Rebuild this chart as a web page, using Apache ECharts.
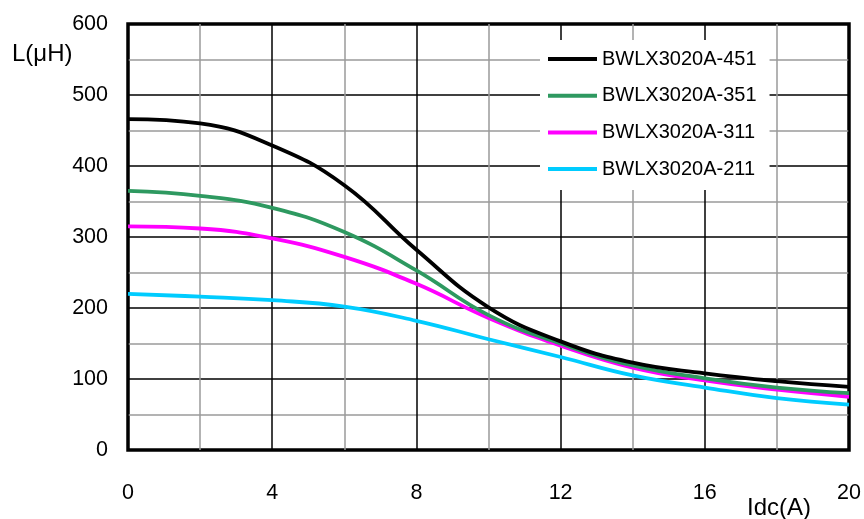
<!DOCTYPE html>
<html><head><meta charset="utf-8">
<script src="https://cdn.jsdelivr.net/npm/echarts@6/dist/echarts.min.js"></script>
<style>html,body{margin:0;padding:0;background:#fff}#c{width:864px;height:519px}</style>
</head><body><div id="c"></div>
<script>
const xs   = [0,  2,  4,  6,  8,  10, 12, 14, 16, 18, 20];
const s451 = [466,460,429,373,282,201,153,123,108,97, 89];
const s351 = [365,358,341,307,253,190,150,119,101,88, 80];
const s311 = [315,312,298,272,234,186,147,116,98, 85, 75];
const s211 = [220,216,211,202,182,156,131,105,88, 73, 64];
const names = ['BWLX3020A-451','BWLX3020A-351','BWLX3020A-311','BWLX3020A-211'];
const colors = ['#000000','#2e9960','#ff00ff','#00ccff'];
const FONT = 'Liberation Sans';

const allData = [s451, s351, s311, s211];
const chart = echarts.init(document.getElementById('c'));
chart.setOption({
  animation: false,
  backgroundColor: '#fff',
  textStyle: {fontFamily: FONT},
  grid: {left: 128, right: 15, top: 24, bottom: 69, show: true, borderColor: '#000', borderWidth: 3.5, backgroundColor: 'transparent'},
  xAxis: {
    type: 'value', min: 0, max: 20, interval: 2,
    axisLine: {show: false}, axisTick: {show: false},
    axisLabel: {margin: 32, fontSize: 21.5, color: '#000', fontFamily: FONT,
      formatter: v => (v % 4 === 0 ? String(v) : '')},
    splitLine: {show: true, lineStyle: {color: ['#000', '#9a9a9a'], width: 1.5}}
  },
  yAxis: {
    type: 'value', min: 0, max: 600, interval: 50,
    axisLine: {show: false}, axisTick: {show: false},
    axisLabel: {margin: 20, fontSize: 21.5, color: '#000', fontFamily: FONT,
      formatter: v => (v % 100 === 0 ? String(v) : '')},
    splitLine: {show: true, lineStyle: {color: ['#000', '#9a9a9a'], width: 1.5}}
  },
  legend: {
    data: names, orient: 'vertical', left: 540, top: 40,
    backgroundColor: '#fff', padding: [9, 13, 11, 8],
    itemWidth: 49, itemHeight: 4, itemGap: 16.7, icon: 'rect',
    textStyle: {fontSize: 20, color: '#000', fontFamily: FONT}
  },
  graphic: [
    {type: 'text', left: 12, top: 42, style: {text: 'L(μH)', fontSize: 24, fill: '#000', fontFamily: FONT}},
    {type: 'text', left: 747, top: 496, style: {text: 'Idc(A)', fontSize: 24, fill: '#000', fontFamily: FONT}}
  ],
  series: allData.map((d, i) => ({
    name: names[i], type: 'line', smooth: 0.45, showSymbol: false,
    data: xs.map((x, j) => [x, d[j]]),
    lineStyle: {color: colors[i], width: 3.8},
    itemStyle: {color: colors[i]},
    z: 10 - i
  }))
});
</script></body></html>
